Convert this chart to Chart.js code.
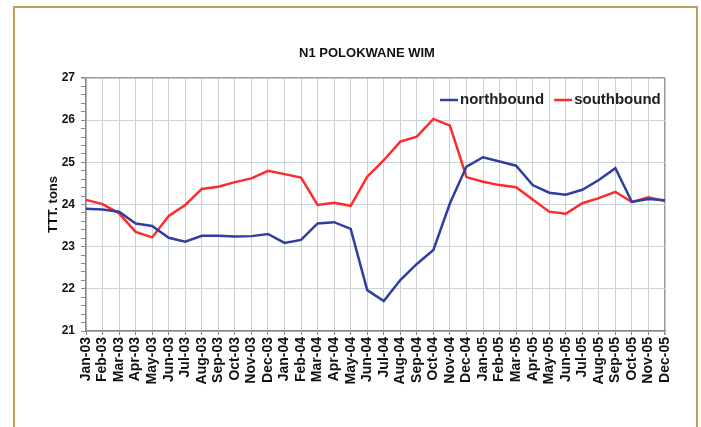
<!DOCTYPE html>
<html>
<head>
<meta charset="utf-8">
<title>N1 Polokwane WIM</title>
<script src="https://cdn.jsdelivr.net/npm/chart.js@4.4.1/dist/chart.umd.min.js"></script>
<style>
    body { margin: 0; background: #fff; }
    #wrap { position: relative; width: 701px; height: 427px; overflow: hidden; }
    #frame {
        position: absolute; left: 13px; top: 6px; width: 681px; height: 450px;
        border: 2px solid #c39c5f; border-bottom: none;
    }
    #wimChart { position: absolute; left: 0; top: 0; }
</style>
</head>
<body>
<div id="wrap">
    <div id="frame"></div>
    <canvas id="wimChart" width="701" height="427"></canvas>
</div>
<script>
// chart data
const chartTitle = 'N1 POLOKWANE WIM';
const months = [
    'Jan-03', 'Feb-03', 'Mar-03', 'Apr-03', 'May-03', 'Jun-03', 'Jul-03', 'Aug-03', 'Sep-03', 'Oct-03', 'Nov-03', 'Dec-03',
    'Jan-04', 'Feb-04', 'Mar-04', 'Apr-04', 'May-04', 'Jun-04', 'Jul-04', 'Aug-04', 'Sep-04', 'Oct-04', 'Nov-04', 'Dec-04',
    'Jan-05', 'Feb-05', 'Mar-05', 'Apr-05', 'May-05', 'Jun-05', 'Jul-05', 'Aug-05', 'Sep-05', 'Oct-05', 'Nov-05', 'Dec-05'
];
const northbound = [
    23.90, 23.88, 23.83, 23.55, 23.49, 23.21, 23.12, 23.26, 23.26, 23.24, 23.25, 23.30,
    23.09, 23.16, 23.55, 23.58, 23.42, 21.97, 21.71, 22.21, 22.59, 22.92, 24.03, 24.90,
    25.12, 25.02, 24.92, 24.46, 24.28, 24.23, 24.35, 24.58, 24.86, 24.06, 24.13, 24.10
];
const southbound = [
    24.11, 24.01, 23.79, 23.35, 23.22, 23.73, 23.99, 24.37, 24.42, 24.53, 24.62, 24.80,
    24.72, 24.64, 23.99, 24.04, 23.97, 24.66, 25.05, 25.49, 25.61, 26.03, 25.87, 24.65,
    24.54, 24.46, 24.41, 24.12, 23.83, 23.78, 24.03, 24.15, 24.30, 24.06, 24.17, 24.08
];
const yMin = 21, yMax = 27, yMinorStep = 0.2;

const FONT = '"Liberation Sans", Arial, sans-serif';
const gridColor = '#c9d2d6';
const frameColor = '#9a9a9a';

function isWhole(v) {
    return Math.abs(v - Math.round(v)) < 1e-6;
}

// title sits a bit right of the canvas centre and the legend sits inside
// the plot, so both are drawn by hand
const titleLegendPlugin = {
    id: 'titleLegend',
    afterDraw(chart) {
        const c = chart.ctx;
        c.save();
        c.font = 'bold 13px ' + FONT;
        c.fillStyle = '#111';
        c.textAlign = 'center';
        c.textBaseline = 'middle';
        c.fillText(chartTitle, 367, 53);

        // legend, top right inside the plot
        c.font = 'bold 15px ' + FONT;
        c.textAlign = 'left';
        let x = 440;
        const y = chart.chartArea.top + 22;
        chart.data.datasets.forEach(ds => {
            c.strokeStyle = ds.borderColor;
            c.lineWidth = ds.borderWidth;
            c.beginPath();
            c.moveTo(x, y);
            c.lineTo(x + 18, y);
            c.stroke();
            x += 20;
            c.fillStyle = '#222';
            c.fillText(ds.label, x, y);
            x += c.measureText(ds.label).width + 10;
        });
        c.restore();
    }
};

new Chart(document.getElementById('wimChart'), {
    type: 'line',
    data: {
        labels: months,
        datasets: [{
            label: 'northbound',
            data: northbound,
            borderColor: '#2f3f9f',
            backgroundColor: '#2f3f9f',
            borderWidth: 2.5,
            pointRadius: 0,
            tension: 0
        }, {
            label: 'southbound',
            data: southbound,
            borderColor: '#ff2a2a',
            backgroundColor: '#ff2a2a',
            borderWidth: 2.5,
            pointRadius: 0,
            tension: 0
        }]
    },
    options: {
        responsive: false,
        animation: false,
        layout: { padding: { top: 78, left: 38, right: 36, bottom: 0 } },
        plugins: {
            tooltip: { enabled: false },
            title: { display: false },
            legend: { display: false }
        },
        scales: {
            x: {
                offset: false,
                afterFit(scale) { scale.height = 96; },
                grid: {
                    color: ctx => ctx.index === months.length - 1 ? frameColor : gridColor,
                    lineWidth: ctx => ctx.index === months.length - 1 ? 1.5 : 1,
                    tickColor: '#888',
                    tickLength: 4
                },
                border: { color: '#888', width: 1.5 },
                ticks: {
                    autoSkip: false,
                    maxRotation: 90,
                    minRotation: 90,
                    padding: 2,
                    color: '#111',
                    font: { family: FONT, size: 14, weight: 'bold' }
                }
            },
            y: {
                min: yMin,
                max: yMax,
                afterFit(scale) { scale.width = 48; },
                grid: {
                    color: ctx => {
                        const v = ctx.tick.value;
                        if (!isWhole(v)) return 'rgba(0,0,0,0)';
                        return Math.round(v) === yMax ? frameColor : gridColor;
                    },
                    lineWidth: ctx => Math.round(ctx.tick.value) === yMax && isWhole(ctx.tick.value) ? 1.5 : 1,
                    tickColor: '#888',
                    tickLength: 5
                },
                border: { color: '#888', width: 1.5 },
                title: {
                    display: true,
                    text: 'TTT. tons',
                    color: '#111',
                    font: { family: FONT, size: 13, weight: 'bold' },
                    padding: { top: 8, bottom: 0 }
                },
                ticks: {
                    stepSize: yMinorStep,
                    autoSkip: false,
                    padding: 6,
                    color: '#111',
                    font: { family: FONT, size: 12, weight: 'bold' },
                    callback: v => isWhole(v) ? String(Math.round(v)) : ''
                }
            }
        }
    },
    plugins: [titleLegendPlugin]
});
</script>
</body>
</html>
